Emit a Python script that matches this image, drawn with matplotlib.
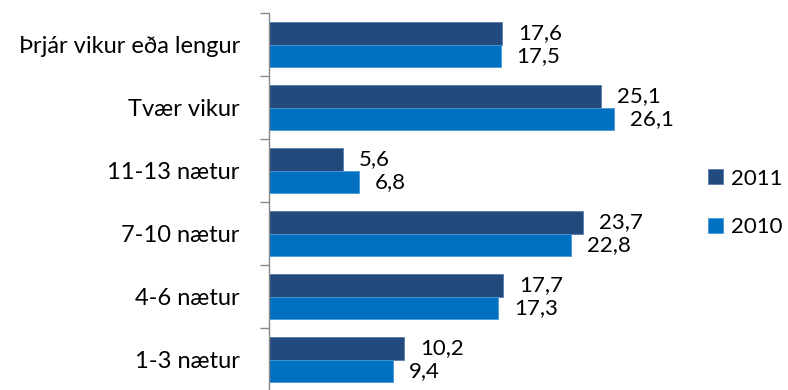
import matplotlib
matplotlib.use("Agg")
import matplotlib.pyplot as plt
import numpy as np

plt.rcParams['font.family'] = ['Lato', 'DejaVu Sans']

categories = ["Þrjár vikur eða lengur", "Tvær vikur", "11-13 nætur",
              "7-10 nætur", "4-6 nætur", "1-3 nætur"]
series_names = ["2011", "2010"]
values_2011 = [17.6, 25.1, 5.6, 23.7, 17.7, 10.2]
values_2010 = [17.5, 26.1, 6.8, 22.8, 17.3, 9.4]

colors = ["#234A7C", "#0070C0"]
fs = 16

W, H = 788, 390
fig = plt.figure(figsize=(W / 100, H / 100), dpi=100)
left, right = 269 / W, 666 / W
top, bottom = 1 - 13 / H, 1 - 391 / H
ax = fig.add_axes([left, bottom, right - left, top - bottom])

y = np.arange(len(categories))
bh = 0.365
b1 = ax.barh(y - bh / 2, values_2011, height=bh, color=colors[0],
             edgecolor="#5a7bab", linewidth=0.6, label=series_names[0])
b2 = ax.barh(y + bh / 2, values_2010, height=bh, color=colors[1],
             edgecolor="#4a98d8", linewidth=0.6, label=series_names[1])

for bars, vals in ((b1, values_2011), (b2, values_2010)):
    for rect, v in zip(bars, vals):
        ax.annotate(f"{v:.1f}".replace(".", ","),
                    xy=(v, rect.get_y() + rect.get_height() / 2),
                    xytext=(11.5, 0), textcoords="offset points",
                    ha="left", va="center", fontsize=fs, color="black")

ax.set_xlim(0, 30)
ax.set_ylim(len(categories) - 0.5, -0.5)
ax.set_yticks(y)
ax.set_yticklabels(categories, fontsize=17)
ax.tick_params(axis="y", which="major", length=0, pad=21)
ax.set_yticks(np.arange(-0.5, len(categories), 1), minor=True)
ax.tick_params(axis="y", which="minor", length=6.5, width=1, color="#888888")
ax.set_xticks([])

for s in ("top", "right", "bottom"):
    ax.spines[s].set_visible(False)
ax.spines["left"].set_color("#888888")
ax.spines["left"].set_linewidth(1)

leg = fig.legend(handles=[b1, b2], labels=series_names, loc="center right",
                 bbox_to_anchor=(783 / W, 1 - 203 / H), frameon=False,
                 fontsize=fs, handlelength=0.65, handleheight=0.65,
                 handletextpad=0.4, labelspacing=1.3, borderpad=0,
                 borderaxespad=0)

fig.savefig("out.png", dpi=100)
